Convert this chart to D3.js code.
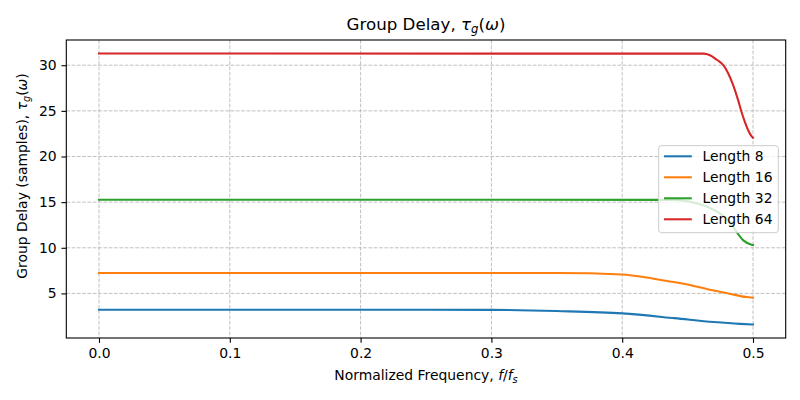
<!DOCTYPE html>
<html>
<head>
<meta charset="utf-8">
<script src="https://cdn.jsdelivr.net/npm/d3@7"></script>
<style>
  html, body { margin: 0; padding: 0; background: #fff; }
  svg { display: block; font-family: "DejaVu Sans", sans-serif; }
</style>
</head>
<body>
<svg id="chart" width="800" height="400"></svg>
<script>
// ---- Data ----
const seriesNames = ["Length 8", "Length 16", "Length 32", "Length 64"];
const seriesColors = ["#1f77b4", "#ff7f0e", "#2ca02c", "#d62728"];

const freq8  = [0, 0.25, 0.30, 0.35, 0.40, 0.44, 0.47, 0.49, 0.50];
const delay8 = [3.22, 3.22, 3.20, 3.07, 2.81, 2.29, 1.86, 1.66, 1.60];

const freq16  = [0, 0.35, 0.40, 0.424, 0.447, 0.467, 0.482, 0.495, 0.50];
const delay16 = [7.24, 7.23, 7.08, 6.61, 6.06, 5.41, 4.97, 4.60, 4.53];

const freq32  = [0, 0.44, 0.452, 0.462, 0.4748, 0.4824, 0.4875, 0.4926, 0.499, 0.50];
const delay32 = [15.27, 15.25, 15.05, 14.65, 13.74, 12.82, 11.72, 10.81, 10.34, 10.30];

const freq64  = [0, 0.462, 0.4671, 0.4723, 0.4773, 0.4811, 0.4849, 0.4888, 0.4913, 0.4939, 0.4964, 0.4990, 0.50];
const delay64 = [31.28, 31.27, 31.1, 30.6, 30.0, 29.1, 27.8, 26.1, 24.85, 23.75, 22.85, 22.2, 22.05];

const xTicks = [0.0, 0.1, 0.2, 0.3, 0.4, 0.5];
const yTicks = [5, 10, 15, 20, 25, 30];

const series = [
  { name: seriesNames[0], color: seriesColors[0], f: freq8,  v: delay8 },
  { name: seriesNames[1], color: seriesColors[1], f: freq16, v: delay16 },
  { name: seriesNames[2], color: seriesColors[2], f: freq32, v: delay32 },
  { name: seriesNames[3], color: seriesColors[3], f: freq64, v: delay64 },
];

// ---- Layout ----
const svg = d3.select("#chart");
const L = 66.3, R = 785.7, T = 40, B = 338;

const allF = series.flatMap(s => s.f);
const allV = series.flatMap(s => s.v);
const fMin = d3.min(allF), fMax = d3.max(allF);
const vMin = d3.min(allV), vMax = d3.max(allV);
const fPad = (fMax - fMin) * 0.05, vPad = (vMax - vMin) * 0.05;

const x = d3.scaleLinear().domain([fMin - fPad, fMax + fPad]).range([L, R]);
const y = d3.scaleLinear().domain([vMin - vPad, vMax + vPad]).range([B, T]);

// grid
const grid = svg.append("g");
grid.selectAll("line.gx").data(xTicks).join("line")
  .attr("x1", d => x(d)).attr("x2", d => x(d))
  .attr("y1", T).attr("y2", B)
  .attr("stroke", "#b0b0b0").attr("stroke-width", 0.8)
  .attr("stroke-dasharray", "3.7,1.6");
grid.selectAll("line.gy").data(yTicks).join("line")
  .attr("x1", L).attr("x2", R)
  .attr("y1", d => y(d)).attr("y2", d => y(d))
  .attr("stroke", "#b0b0b0").attr("stroke-width", 0.8)
  .attr("stroke-dasharray", "3.7,1.6");

// lines
const line = d3.line()
  .x(d => x(d[0])).y(d => y(d[1]))
  .curve(d3.curveMonotoneX);
svg.append("g").selectAll("path").data(series).join("path")
  .attr("d", s => line(s.f.map((f, i) => [f, s.v[i]])))
  .attr("fill", "none")
  .attr("stroke", s => s.color)
  .attr("stroke-width", 2.08)
  .attr("stroke-linecap", "square");

// axes
const fmtX = d3.format(".1f");
const xAxis = d3.axisBottom(x).tickValues(xTicks).tickFormat(fmtX)
  .tickSize(4.86).tickPadding(4.86);
const yAxis = d3.axisLeft(y).tickValues(yTicks).tickFormat(d3.format("d"))
  .tickSize(4.86).tickPadding(4.86);

const gx = svg.append("g").attr("transform", `translate(0,${B})`).call(xAxis);
const gy = svg.append("g").attr("transform", `translate(${L},0)`).call(yAxis);
[gx, gy].forEach(g => {
  g.select(".domain").remove();
  g.selectAll(".tick line").attr("stroke", "#000").attr("stroke-width", 1.1);
  g.selectAll(".tick text").attr("fill", "#000")
    .attr("font-family", "DejaVu Sans").attr("font-size", "13.9px");
});

// spines
svg.append("rect")
  .attr("x", L).attr("y", T).attr("width", R - L).attr("height", B - T)
  .attr("fill", "none").attr("stroke", "#000").attr("stroke-width", 1.1);

// title
const title = svg.append("text")
  .attr("x", 426).attr("y", 29.5)
  .attr("text-anchor", "middle")
  .attr("font-size", "16.67px").attr("fill", "#000");
title.append("tspan").text("Group Delay, ");
title.append("tspan").attr("font-style", "italic").text("τ");
title.append("tspan").attr("font-style", "italic").attr("font-size", "11.7px").attr("dy", 3.5).text("g");
title.append("tspan").attr("dy", -3.5).text("(");
title.append("tspan").attr("font-style", "italic").text("ω");
title.append("tspan").text(")");

// x label
const xl = svg.append("text")
  .attr("x", 426).attr("y", 380)
  .attr("text-anchor", "middle")
  .attr("font-size", "13.9px").attr("fill", "#000");
xl.append("tspan").text("Normalized Frequency, ");
xl.append("tspan").attr("font-style", "italic").text("f");
xl.append("tspan").text("/");
xl.append("tspan").attr("font-style", "italic").text("f");
xl.append("tspan").attr("font-style", "italic").attr("font-size", "9.7px").attr("dy", 3).text("s");

// y label
const yl = svg.append("text")
  .attr("transform", "translate(27,176) rotate(-90)")
  .attr("text-anchor", "middle")
  .attr("font-size", "13.9px").attr("fill", "#000");
yl.append("tspan").text("Group Delay (samples), ");
yl.append("tspan").attr("font-style", "italic").text("τ");
yl.append("tspan").attr("font-style", "italic").attr("font-size", "9.7px").attr("dy", 3).text("g");
yl.append("tspan").attr("dy", -3).text("(");
yl.append("tspan").attr("font-style", "italic").text("ω");
yl.append("tspan").text(")");

// legend
const lg = svg.append("g");
const lgX = 658.7, lgY = 145.7, lgW = 119.6, lgH = 87;
lg.append("rect")
  .attr("x", lgX).attr("y", lgY).attr("width", lgW).attr("height", lgH)
  .attr("rx", 2.8).attr("ry", 2.8)
  .attr("fill", "#fff").attr("fill-opacity", 0.8)
  .attr("stroke", "#cccccc").attr("stroke-width", 1);
const rowY = i => 156.3 + i * 21;
lg.selectAll("line").data(series).join("line")
  .attr("x1", 664).attr("x2", 691.8)
  .attr("y1", (d, i) => rowY(i)).attr("y2", (d, i) => rowY(i))
  .attr("stroke", d => d.color).attr("stroke-width", 2.08);
lg.selectAll("text").data(series).join("text")
  .attr("x", 702.5).attr("y", (d, i) => rowY(i) + 5)
  .attr("font-size", "13.9px").attr("fill", "#000")
  .text(d => d.name);
</script>
</body>
</html>
